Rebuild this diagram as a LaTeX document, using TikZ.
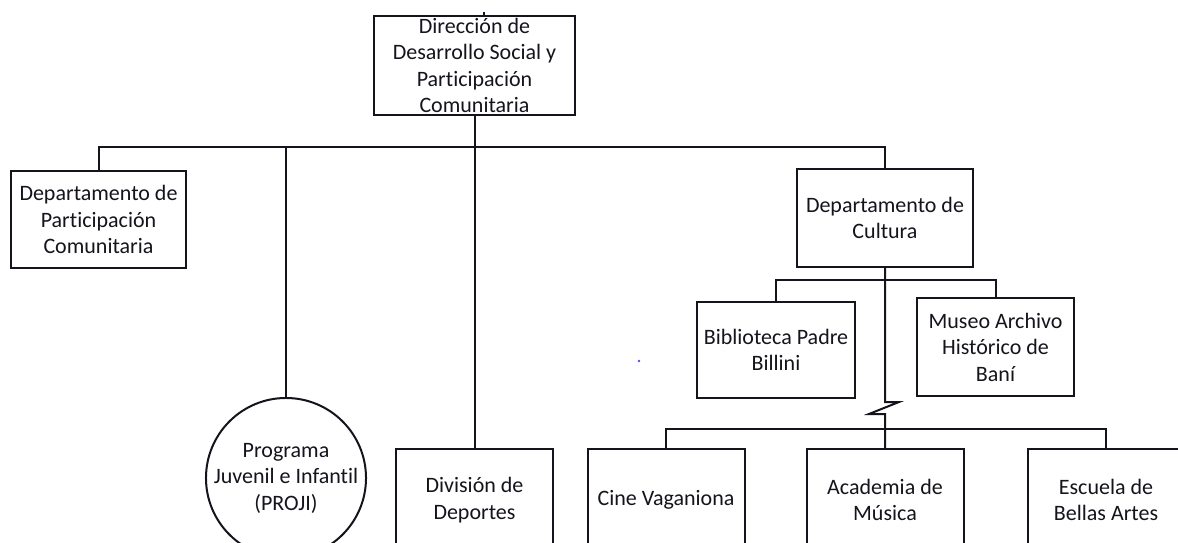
\documentclass[tikz,border=0pt]{standalone}
\usepackage{fontspec}
\setmainfont{Carlito}[Ligatures=NoCommon]
\definecolor{ink}{RGB}{20,20,28}
\begin{document}
\begin{tikzpicture}[x=1pt,y=-1pt,
  every node/.style={font=\fontsize{22}{26.5}\selectfont, text=ink},
  box/.style={draw=ink, line width=2pt, rectangle, inner sep=0pt, align=center},
  roundbox/.style={draw=ink, line width=2pt, circle, inner sep=0pt, align=center, minimum size=151pt},
  conn/.style={draw=ink, line width=2pt}]
\useasboundingbox (0,0) rectangle (1178,543);
\clip (0,0) rectangle (1178,543);
\fill[white] (0,0) rectangle (1178,543);
% boxes
\node[box, minimum width=201pt, minimum height=99pt] (top) at (474.5,65.5) {Dirección de\\Desarrollo Social y\\Participación\\Comunitaria};
\node[box, minimum width=175pt, minimum height=97pt] (dpc) at (98.5,219.5) {Departamento de\\Participación\\Comunitaria};
\node[roundbox] (proji) at (286,478) {Programa\\Juvenil e Infantil\\(PROJI)};
\node[box, minimum width=157pt, minimum height=102pt] (div) at (474.5,500) {División de\\Deportes};
\node[box, minimum width=176pt, minimum height=98pt] (cult) at (885,218) {Departamento de\\Cultura};
\node[box, minimum width=158pt, minimum height=96pt] (bib) at (776,350) {Biblioteca Padre\\Billini};
\node[box, minimum width=157pt, minimum height=98pt] (mus) at (995.5,347) {Museo Archivo\\Histórico de\\Baní};
\node[box, minimum width=157pt, minimum height=102pt] (cine) at (666,500) {Cine Vaganiona};
\node[box, minimum width=157pt, minimum height=102pt] (acad) at (885,500) {Academia de\\Música};
\node[box, minimum width=157pt, minimum height=102pt] (esc) at (1106,500) {Escuela de\\Bellas Artes};
% connectors
\coordinate (bus) at (474.5,147);
\coordinate (cbus) at (885,280);
\coordinate (bbus) at (885,429);
\coordinate (tick) at (484,12);
\draw[conn] (top.south) -- (bus);
\draw[conn] (dpc.north) |- (bus) -| (cult.north);
\draw[conn] (proji.north) -- (proji.north |- bus);
\draw[conn] (div.north) -- (div.north |- bus);
\draw[conn] (bib.north) |- (cbus) -| (mus.north);
\draw[conn] (cult.south) -- ++(0,134) -- ++(14,0) -- ++(-30,12) -- ++(16,0) -- (acad.north);
\draw[conn] (cine.north) |- (bbus) -| (esc.north);
\draw[conn] (tick) -- (top.north -| tick);
\fill[blue!70] (639,361) circle (1.3pt);
\end{tikzpicture}
\end{document}
